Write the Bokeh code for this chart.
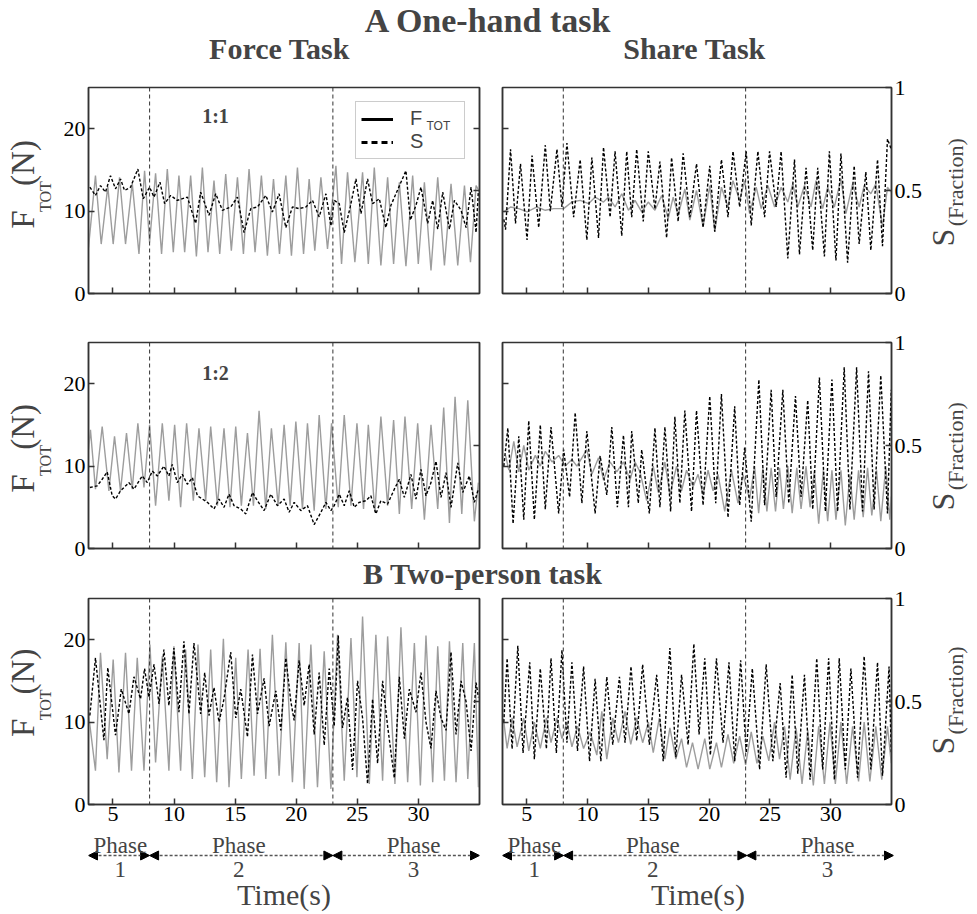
import math
from bokeh.plotting import figure
from bokeh.models import (Range1d, LinearAxis, FixedTicker, Span, Label, Legend,
                          LegendItem, Arrow, NormalHead)
from bokeh.layouts import column, row
from bokeh.embed import file_html
from bokeh.resources import INLINE

# ---------------- data ----------------
x_ticks = [5, 10, 15, 20, 25, 30]
f_ticks = [0, 10, 20]
s_ticks = [0, 0.5, 1]
phase_bounds = [3, 8, 23, 35]
phase_marks = [8, 23]
phase_names = ["1", "2", "3"]
phase_label_x = [5.6, 15.3, 29.6]

# One-hand, Force task (1:1)
tl_force_t = [3.0, 3.57, 4.04, 4.58, 5.02, 5.54, 6.03, 6.58, 7.13, 7.59, 8.0, 8.49, 8.98, 9.45, 9.94, 10.4, 10.87, 11.36, 11.83, 12.32, 12.78, 13.27, 13.74, 14.23, 14.69, 15.19, 15.68, 16.14, 16.63, 17.15, 17.64, 18.14, 18.63, 19.15, 19.61, 20.1, 20.6, 21.06, 21.52, 22.02, 22.56, 23.25, 23.71, 24.2, 24.8, 25.43, 25.9, 26.39, 26.93, 27.48, 27.97, 28.44, 28.98, 29.53, 29.99, 30.49, 31.03, 31.58, 32.13, 32.67, 33.22, 33.77, 34.26, 34.72, 34.95]
tl_force = [5.6, 14.3, 6.0, 13.0, 6.0, 14.1, 6.0, 13.4, 4.8, 14.9, 6.2, 14.6, 4.8, 15.1, 5.0, 14.3, 5.0, 14.3, 4.5, 15.3, 5.0, 13.7, 4.8, 14.5, 5.2, 14.1, 4.8, 15.1, 5.0, 14.3, 4.6, 13.9, 4.8, 14.3, 4.6, 15.3, 4.8, 13.9, 5.2, 14.1, 5.4, 15.5, 3.6, 14.7, 3.8, 14.7, 3.6, 15.3, 3.4, 14.1, 3.6, 13.5, 3.3, 14.3, 3.6, 13.5, 2.8, 14.1, 3.4, 13.3, 3.4, 13.1, 3.8, 13.1, 12.5]
tl_share_t = [3.11, 3.57, 3.98, 4.39, 4.80, 5.21, 5.62, 5.95, 6.44, 7.04, 7.48, 8.0, 8.36, 8.85, 9.23, 9.72, 10.27, 11.09, 11.77, 12.18, 12.86, 13.41, 13.96, 14.64, 15.19, 15.73, 16.28, 16.83, 17.51, 18.05, 18.60, 19.15, 19.69, 20.24, 20.79, 21.33, 21.88, 22.43, 22.84, 23.11, 23.52, 23.93, 24.42, 24.89, 25.30, 25.84, 26.25, 26.80, 27.34, 27.75, 28.16, 28.57, 28.98, 29.34, 29.80, 30.21, 30.76, 31.17, 31.58, 31.99, 32.54, 32.95, 33.49, 33.90, 34.31, 34.72, 34.91]
tl_share = [0.516, 0.476, 0.524, 0.492, 0.572, 0.508, 0.556, 0.50, 0.516, 0.604, 0.46, 0.516, 0.468, 0.54, 0.436, 0.476, 0.452, 0.468, 0.34, 0.492, 0.38, 0.484, 0.404, 0.42, 0.468, 0.296, 0.412, 0.42, 0.476, 0.396, 0.484, 0.32, 0.42, 0.412, 0.42, 0.452, 0.372, 0.484, 0.328, 0.452, 0.436, 0.296, 0.42, 0.556, 0.388, 0.556, 0.436, 0.46, 0.32, 0.428, 0.484, 0.54, 0.596, 0.356, 0.428, 0.516, 0.34, 0.452, 0.312, 0.492, 0.312, 0.452, 0.404, 0.32, 0.516, 0.296, 0.50]

# One-hand, Share task (1:1)
tr_force_t = [3.11, 3.66, 4.34, 5.02, 5.84, 6.52, 7.21, 8.03, 8.71, 9.39, 10.08, 10.62, 11.31, 11.72, 12.26, 12.81, 13.36, 13.90, 14.45, 14.99, 15.54, 16.09, 16.63, 17.04, 17.45, 18.0, 18.41, 18.96, 19.50, 20.05, 20.46, 21.01, 21.55, 21.96, 22.51, 22.92, 23.33, 23.87, 24.28, 24.83, 25.38, 25.92, 26.47, 26.88, 27.29, 27.84, 28.38, 28.79, 29.34, 29.75, 30.30, 30.84, 31.25, 31.80, 32.34, 32.75, 33.30, 33.71, 34.26, 34.67, 34.98]
tr_force = [9.9, 10.5, 10.3, 9.9, 10.5, 10.1, 10.3, 10.3, 11.1, 11.3, 10.9, 11.7, 11.1, 11.7, 10.5, 12.1, 10.1, 11.3, 9.9, 11.1, 10.1, 11.9, 9.1, 11.7, 9.5, 12.7, 8.9, 12.5, 8.1, 13.1, 7.5, 12.9, 10.5, 13.7, 11.3, 13.7, 9.7, 12.9, 10.3, 13.1, 10.5, 12.9, 11.1, 13.3, 10.5, 13.1, 10.5, 13.7, 10.3, 12.9, 10.5, 13.9, 9.7, 13.3, 10.5, 13.1, 12.1, 13.3, 8.1, 12.9, 12.3]
tr_share_t = [3.11, 3.25, 3.66, 4.07, 4.48, 5.02, 5.43, 5.98, 6.52, 6.93, 7.48, 7.89, 8.30, 8.85, 9.39, 9.94, 10.35, 10.90, 11.31, 11.85, 12.26, 12.81, 13.22, 13.63, 14.04, 14.58, 14.99, 15.54, 15.95, 16.50, 16.91, 17.45, 17.86, 18.41, 18.96, 19.50, 20.05, 20.46, 21.01, 21.55, 21.96, 22.51, 23.05, 23.46, 24.01, 24.56, 24.97, 25.51, 25.92, 26.47, 27.02, 27.43, 27.97, 28.52, 28.93, 29.48, 29.89, 30.43, 30.84, 31.39, 31.93, 32.34, 32.89, 33.30, 33.85, 34.26, 34.67, 34.98]
tr_share = [0.36, 0.31, 0.70, 0.34, 0.63, 0.26, 0.67, 0.32, 0.72, 0.40, 0.70, 0.42, 0.73, 0.37, 0.65, 0.26, 0.66, 0.27, 0.71, 0.37, 0.69, 0.28, 0.69, 0.37, 0.70, 0.35, 0.69, 0.41, 0.64, 0.27, 0.66, 0.35, 0.68, 0.37, 0.63, 0.32, 0.62, 0.30, 0.65, 0.37, 0.69, 0.42, 0.69, 0.33, 0.69, 0.37, 0.69, 0.42, 0.69, 0.17, 0.65, 0.19, 0.61, 0.21, 0.61, 0.18, 0.69, 0.16, 0.68, 0.15, 0.62, 0.24, 0.59, 0.21, 0.65, 0.23, 0.75, 0.70]

# One-hand, Force task (1:2)
ml_force_t = [3.0, 3.16, 3.57, 4.12, 4.67, 5.13, 5.62, 6.11, 6.58, 7.04, 7.54, 8.0, 8.49, 9.04, 9.58, 10.05, 10.54, 11.03, 11.58, 12.04, 12.59, 13.0, 13.55, 14.09, 14.58, 15.05, 15.51, 16.01, 16.50, 16.96, 17.51, 17.97, 18.52, 19.01, 19.50, 19.97, 20.51, 20.92, 21.47, 21.88, 22.43, 22.89, 23.44, 23.93, 24.48, 24.97, 25.51, 25.90, 26.44, 26.93, 27.48, 27.97, 28.44, 28.90, 29.45, 29.94, 30.49, 31.03, 31.58, 32.07, 32.54, 33.0, 33.55, 34.04, 34.58, 34.91]
ml_force = [12.0, 14.4, 7.2, 14.8, 7.0, 13.6, 7.0, 14.0, 7.2, 15.2, 7.4, 15.0, 5.2, 15.2, 5.8, 15.0, 5.0, 15.2, 5.8, 14.6, 5.8, 14.8, 5.2, 14.6, 5.0, 14.8, 5.2, 14.0, 5.2, 16.7, 4.8, 14.6, 5.2, 15.0, 5.2, 15.4, 4.8, 15.2, 4.6, 16.2, 4.8, 15.2, 5.0, 16.2, 5.2, 15.2, 4.8, 15.0, 4.4, 16.0, 5.2, 15.6, 4.2, 16.0, 4.8, 15.2, 3.5, 15.0, 4.8, 17.1, 3.1, 18.4, 4.2, 18.0, 3.3, 8.0]
ml_share_t = [3.11, 3.71, 4.12, 4.53, 4.94, 5.21, 5.62, 6.31, 6.72, 7.40, 7.81, 8.22, 8.63, 9.17, 9.58, 9.86, 10.27, 10.68, 11.09, 11.50, 11.91, 12.32, 12.73, 13.27, 13.68, 14.09, 14.50, 14.91, 15.46, 15.87, 16.42, 16.83, 17.37, 17.92, 18.46, 19.01, 19.42, 19.83, 20.38, 20.92, 21.47, 22.02, 22.43, 22.84, 23.11, 23.52, 23.93, 24.34, 24.75, 25.16, 25.70, 26.11, 26.52, 26.93, 27.48, 28.03, 28.44, 28.85, 29.39, 29.80, 30.21, 30.62, 31.03, 31.44, 31.85, 32.26, 32.67, 33.22, 33.63, 34.17, 34.58, 34.91]
ml_share = [0.296, 0.304, 0.336, 0.372, 0.256, 0.24, 0.28, 0.32, 0.288, 0.352, 0.32, 0.376, 0.352, 0.40, 0.352, 0.408, 0.32, 0.36, 0.312, 0.344, 0.256, 0.24, 0.224, 0.192, 0.24, 0.20, 0.264, 0.208, 0.192, 0.168, 0.272, 0.232, 0.184, 0.264, 0.208, 0.24, 0.176, 0.224, 0.184, 0.208, 0.116, 0.176, 0.224, 0.184, 0.208, 0.264, 0.208, 0.28, 0.20, 0.224, 0.232, 0.256, 0.168, 0.232, 0.216, 0.288, 0.336, 0.248, 0.36, 0.24, 0.384, 0.256, 0.32, 0.424, 0.248, 0.368, 0.20, 0.416, 0.272, 0.352, 0.224, 0.288]

# One-hand, Share task (1:2)
mr_force_t = [3.25, 3.52, 3.93, 4.34, 4.75, 5.16, 5.70, 6.11, 6.52, 7.07, 7.62, 8.16, 8.71, 9.12, 9.94, 10.35, 10.90, 11.31, 11.85, 12.40, 12.95, 13.49, 13.90, 14.31, 14.86, 15.40, 15.81, 16.36, 16.77, 17.32, 17.73, 18.14, 18.68, 19.09, 19.50, 19.91, 20.32, 20.73, 21.28, 21.83, 22.37, 22.78, 23.33, 23.74, 24.07, 24.42, 24.75, 25.10, 25.46, 25.79, 26.11, 26.47, 26.83, 27.21, 27.56, 27.97, 28.30, 28.66, 29.01, 29.39, 29.75, 30.10, 30.43, 30.84, 31.20, 31.58, 31.93, 32.29, 32.67, 33.03, 33.38, 33.77, 34.12, 34.53, 34.86, 34.98]
mr_force = [11.3, 9.5, 13.0, 9.3, 12.5, 9.5, 11.3, 10.0, 11.8, 10.5, 11.3, 10.0, 10.8, 10.0, 12.0, 9.0, 11.0, 8.3, 10.5, 9.3, 10.5, 8.3, 10.5, 9.3, 5.8, 10.0, 6.8, 10.5, 6.5, 10.0, 7.0, 9.5, 7.5, 9.0, 6.5, 9.5, 7.0, 9.0, 4.5, 9.5, 5.5, 9.0, 6.0, 10.0, 4.3, 9.8, 4.5, 9.8, 4.5, 9.8, 4.8, 10.0, 4.3, 9.8, 4.8, 10.0, 5.0, 9.5, 3.0, 9.5, 3.3, 9.5, 3.5, 9.5, 2.8, 9.0, 3.5, 9.5, 3.8, 9.8, 4.0, 9.5, 3.3, 10.0, 3.5, 6.3]
mr_share_t = [3.11, 3.44, 3.87, 4.34, 4.75, 5.16, 5.62, 6.11, 6.52, 6.99, 7.62, 8.03, 8.52, 8.98, 9.53, 9.94, 10.62, 11.03, 11.58, 11.99, 12.45, 12.95, 13.36, 13.63, 14.17, 14.45, 15.08, 15.54, 15.95, 16.36, 16.83, 17.18, 17.59, 18.0, 18.55, 18.96, 19.50, 20.05, 20.54, 21.01, 21.55, 22.10, 22.51, 22.92, 23.46, 24.09, 24.56, 25.10, 25.51, 26.06, 26.55, 27.10, 27.56, 28.11, 28.52, 29.07, 29.56, 30.10, 30.57, 31.11, 31.58, 32.13, 32.62, 33.11, 33.57, 34.12, 34.67, 34.98]
mr_share = [0.40, 0.585, 0.12, 0.545, 0.14, 0.62, 0.14, 0.60, 0.19, 0.59, 0.17, 0.48, 0.25, 0.66, 0.22, 0.57, 0.17, 0.45, 0.26, 0.59, 0.20, 0.55, 0.20, 0.57, 0.22, 0.48, 0.17, 0.585, 0.20, 0.59, 0.18, 0.64, 0.22, 0.67, 0.18, 0.67, 0.21, 0.74, 0.22, 0.75, 0.15, 0.69, 0.21, 0.49, 0.13, 0.82, 0.21, 0.77, 0.25, 0.77, 0.22, 0.74, 0.25, 0.72, 0.19, 0.83, 0.18, 0.82, 0.18, 0.88, 0.19, 0.88, 0.18, 0.86, 0.19, 0.84, 0.17, 0.77]

# Two-person, Force task
bl_force_t = [3.0, 3.57, 3.98, 4.53, 5.02, 5.49, 6.03, 6.52, 6.99, 7.54, 8.03, 8.49, 9.04, 9.58, 9.99, 10.54, 10.95, 11.50, 11.96, 12.51, 13.0, 13.49, 14.04, 14.50, 15.05, 15.51, 16.06, 16.55, 17.04, 17.51, 18.05, 18.60, 19.15, 19.69, 20.24, 20.65, 21.20, 21.74, 22.29, 22.84, 23.38, 23.93, 24.48, 24.97, 25.43, 25.98, 26.52, 27.07, 27.48, 28.08, 28.57, 29.12, 29.67, 30.16, 30.62, 31.17, 31.58, 32.13, 32.54, 33.08, 33.63, 34.04, 34.58, 34.91]
bl_force = [11.0, 4.1, 18.4, 5.5, 17.6, 3.9, 18.4, 4.1, 17.8, 4.1, 19.4, 5.1, 18.0, 4.1, 19.2, 4.1, 18.8, 3.1, 19.4, 3.3, 18.8, 2.7, 20.1, 2.1, 17.8, 3.1, 18.8, 3.5, 18.9, 3.1, 20.6, 3.5, 19.7, 2.7, 19.6, 1.9, 19.4, 2.1, 18.6, 1.9, 20.6, 2.9, 20.2, 3.3, 22.8, 2.5, 20.6, 2.9, 20.4, 2.5, 21.5, 2.7, 19.6, 2.3, 20.5, 2.7, 19.2, 2.9, 19.8, 2.7, 19.6, 3.1, 19.6, 2.1]
bl_share_t = [3.11, 3.57, 4.26, 4.58, 5.21, 5.68, 6.31, 6.72, 7.26, 7.59, 7.95, 8.36, 8.77, 9.17, 9.58, 9.99, 10.40, 10.81, 11.22, 11.63, 12.18, 12.51, 12.86, 13.27, 13.68, 14.09, 14.64, 15.05, 15.46, 16.01, 16.42, 16.83, 17.37, 17.78, 18.33, 18.74, 19.15, 19.56, 19.83, 20.24, 20.65, 21.06, 21.47, 21.88, 22.29, 22.70, 23.11, 23.44, 23.79, 24.20, 24.61, 25.02, 25.43, 25.84, 26.25, 26.66, 27.07, 27.48, 28.03, 28.44, 28.85, 29.26, 29.80, 30.21, 30.62, 31.03, 31.44, 31.85, 32.26, 32.67, 33.08, 33.49, 33.90, 34.31, 34.72, 34.91]
bl_share = [0.432, 0.712, 0.312, 0.664, 0.336, 0.56, 0.44, 0.62, 0.512, 0.66, 0.52, 0.68, 0.488, 0.752, 0.48, 0.76, 0.448, 0.792, 0.44, 0.784, 0.44, 0.64, 0.432, 0.568, 0.40, 0.512, 0.74, 0.42, 0.56, 0.328, 0.728, 0.44, 0.612, 0.38, 0.552, 0.36, 0.712, 0.50, 0.408, 0.70, 0.48, 0.68, 0.34, 0.64, 0.288, 0.66, 0.38, 0.82, 0.372, 0.52, 0.168, 0.60, 0.42, 0.10, 0.512, 0.20, 0.60, 0.38, 0.128, 0.62, 0.32, 0.56, 0.448, 0.64, 0.40, 0.272, 0.552, 0.42, 0.36, 0.74, 0.34, 0.60, 0.50, 0.26, 0.592, 0.52]

# Two-person, Share task
br_force_t = [3.11, 3.38, 3.79, 4.20, 4.75, 5.16, 5.62, 6.11, 6.61, 6.99, 7.48, 7.89, 8.30, 8.71, 9.17, 9.67, 10.21, 10.76, 11.17, 11.58, 12.07, 12.54, 13.08, 13.55, 14.04, 14.53, 15.0, 15.40, 15.90, 16.36, 16.77, 17.26, 17.73, 18.14, 18.63, 19.09, 19.64, 20.05, 20.60, 21.01, 21.55, 22.02, 22.51, 23.0, 23.46, 23.93, 24.42, 24.91, 25.38, 25.79, 26.20, 26.66, 27.15, 27.64, 28.11, 28.57, 29.01, 29.48, 29.94, 30.38, 30.84, 31.31, 31.80, 32.29, 32.75, 33.22, 33.71, 34.20, 34.67, 34.98]
br_force = [10.0, 6.8, 10.5, 7.0, 10.5, 6.5, 10.0, 6.8, 10.5, 7.5, 10.5, 8.0, 10.0, 7.0, 9.5, 6.8, 8.8, 6.0, 11.3, 5.5, 10.5, 7.5, 11.3, 7.3, 10.5, 7.5, 10.0, 6.3, 10.5, 5.5, 9.3, 5.5, 8.0, 4.5, 7.5, 4.3, 8.0, 4.3, 7.5, 4.5, 8.5, 5.0, 8.3, 4.8, 8.8, 5.0, 8.3, 5.3, 10.0, 5.5, 9.5, 3.0, 9.3, 2.5, 9.0, 2.3, 9.5, 2.5, 10.0, 2.5, 10.0, 2.5, 9.5, 2.8, 10.0, 2.8, 9.5, 3.0, 9.5, 5.0]
br_share_t = [3.11, 3.38, 3.79, 4.26, 4.69, 5.24, 5.62, 6.11, 6.61, 6.99, 7.43, 7.89, 8.30, 8.71, 9.17, 9.67, 10.16, 10.62, 11.09, 11.58, 12.07, 12.62, 13.08, 13.57, 14.04, 14.53, 15.08, 15.68, 16.22, 16.77, 17.26, 17.73, 18.27, 18.74, 19.17, 19.64, 20.10, 20.60, 21.14, 21.63, 22.10, 22.59, 23.05, 23.55, 24.15, 24.69, 25.24, 25.84, 26.33, 26.83, 27.29, 27.84, 28.30, 28.85, 29.34, 29.83, 30.30, 30.70, 31.20, 31.66, 32.21, 32.75, 33.30, 33.85, 34.26, 34.80, 34.98]
br_share = [0.40, 0.71, 0.27, 0.77, 0.25, 0.69, 0.22, 0.66, 0.27, 0.71, 0.25, 0.75, 0.30, 0.69, 0.26, 0.67, 0.21, 0.61, 0.21, 0.62, 0.29, 0.62, 0.30, 0.67, 0.31, 0.68, 0.29, 0.63, 0.21, 0.76, 0.23, 0.63, 0.29, 0.78, 0.34, 0.71, 0.24, 0.71, 0.30, 0.69, 0.21, 0.70, 0.25, 0.66, 0.17, 0.68, 0.21, 0.59, 0.13, 0.63, 0.15, 0.63, 0.12, 0.71, 0.17, 0.71, 0.12, 0.71, 0.17, 0.66, 0.13, 0.72, 0.17, 0.69, 0.14, 0.67, 0.25]

# ---------------- layout / style ----------------
X_RANGE = (3, 35)
F_RANGE = (0, 25)
S_RANGE = (0, 1)
SERIF = "Liberation Serif"
SANS = "Liberation Sans"
GREY = "#9d9d9d"
DARK = "#333333"
PAGE_W = 977
FRAME_W, FRAME_H = 391, 206
SIDE_L, SIDE_R = 58, 52            # label strips
PL_L, PL_R = 30, 21                # left panel borders
PR_L, PR_R = 2, 32                 # right panel borders
PANEL_LW = PL_L + FRAME_W + PL_R   # 442
PANEL_RW = PR_L + FRAME_W + PR_R   # 425
FRAME_L_PAGE = SIDE_L + PL_L       # 88
PXX = FRAME_W / (X_RANGE[1] - X_RANGE[0])
PXY = FRAME_H / (F_RANGE[1] - F_RANGE[0])


def xl(px):   # page px -> data x for left-column panels
    return X_RANGE[0] + (px - FRAME_L_PAGE) / PXX


def style_axis(ax, show, standoff=4):
    ax.axis_line_color = DARK
    ax.axis_line_width = 1.5
    ax.major_tick_in = 6
    ax.major_tick_out = 0
    ax.minor_tick_in = 0
    ax.minor_tick_out = 0
    ax.major_tick_line_color = DARK
    ax.major_tick_line_width = 1.5
    if show:
        ax.major_label_text_font = SERIF
        ax.major_label_text_font_size = "22px"
        ax.major_label_text_color = "black"
        ax.major_label_standoff = standoff
    else:
        ax.major_label_text_color = None
        ax.major_label_text_font_size = "1px"
        ax.major_label_standoff = 0


def pair(a, b):
    n = min(len(a), len(b))
    return list(a[:n]), list(b[:n])


def blank(width, height, xr, yr, **kw):
    p = figure(width=width, height=height, x_range=Range1d(*xr), y_range=Range1d(*yr),
               x_axis_type=None, y_axis_type=None, toolbar_location=None,
               output_backend="svg", **kw)
    p.outline_line_color = None
    p.xgrid.visible = False
    p.ygrid.visible = False
    p.border_fill_color = None
    p.background_fill_color = None
    return p


def make_panel(side, f_t, f_v, s_t, s_v, top, bottom, show_x, inner_s_ticks=(0.5,)):
    left = side == "L"
    p = figure(width=PANEL_LW if left else PANEL_RW, height=top + FRAME_H + bottom,
               x_range=Range1d(*X_RANGE), y_range=Range1d(*F_RANGE),
               toolbar_location=None, output_backend="svg",
               min_border_left=PL_L if left else PR_L,
               min_border_right=PL_R if left else PR_R,
               min_border_top=top, min_border_bottom=bottom)
    p.extra_y_ranges = {"s": Range1d(*S_RANGE)}
    p.xgrid.visible = False
    p.ygrid.visible = False
    p.outline_line_color = DARK
    p.outline_line_width = 1.5
    p.border_fill_color = None
    p.background_fill_color = "white"

    xa = p.xaxis[0]
    xa.ticker = FixedTicker(ticks=x_ticks)
    style_axis(xa, show_x, standoff=2)
    ya = p.yaxis[0]
    ya.ticker = FixedTicker(ticks=f_ticks if left else [t for t in f_ticks if t > 0])
    style_axis(ya, left, standoff=3)
    sa = LinearAxis(y_range_name="s",
                    ticker=FixedTicker(ticks=s_ticks if not left else list(inner_s_ticks)))
    sa.major_label_overrides = {0: "0", 0.5: "0.5", 1: "1"}
    style_axis(sa, not left, standoff=3)
    p.add_layout(sa, "right")

    for m in phase_marks:
        p.add_layout(Span(location=m, dimension="height", line_color=DARK,
                          line_dash="4 3", line_width=1))
    ft, fv = pair(f_t, f_v)
    st, sv = pair(s_t, s_v)
    p.line(ft, fv, line_color=GREY, line_width=1.4)
    p.line(st, sv, y_range_name="s", line_color="black", line_dash="3 2", line_width=1.4)
    return p


def side_labels(left, height, top):
    w = SIDE_L if left else SIDE_R
    p = blank(w, height, (0, w), (0, height), min_border=0)
    yc = height - (top + FRAME_H / 2)
    if left:
        items = [(22, -50, "F", "33px"), (45, -30, "TOT", "16px"), (22, 1, "(N)", "33px")]
    else:
        items = [(17, -71, "S", "32px"), (30, -47, "(Fraction)", "22px")]
    for (x, dy, txt, size) in items:
        p.add_layout(Label(x=x, y=yc + dy, text=txt, angle=math.pi / 2, text_font=SERIF,
                           text_font_size=size, text_align="left",
                           text_baseline="alphabetic"))
    return p


def panel_row(f_l, f_r, top, bottom, show_x, inner=(0.5,)):
    h = top + FRAME_H + bottom
    pl = make_panel("L", *f_l, top, bottom, show_x, inner)
    pr = make_panel("R", *f_r, top, bottom, show_x)
    return pl, pr, row(side_labels(True, h, top), pl, pr, side_labels(False, h, top))


def header(h, items):
    p = blank(PAGE_W, h, (0, PAGE_W), (0, h), min_border=0)
    for (x, y, txt, size) in items:
        p.add_layout(Label(x=x, y=y, text=txt, text_font=SERIF, text_font_size=size,
                           text_font_style="bold", text_align="center",
                           text_baseline="middle"))
    return p


def footer(left):
    H = 80
    p = blank(SIDE_L + PANEL_LW if left else PANEL_RW + SIDE_R, H, X_RANGE, (0, H),
              min_border_left=FRAME_L_PAGE if left else PR_L,
              min_border_right=PL_R if left else PR_R + SIDE_R,
              min_border_top=0, min_border_bottom=0)
    for i in range(3):
        p.add_layout(Arrow(start=NormalHead(size=9, fill_color="black", line_color="black"),
                           end=NormalHead(size=9, fill_color="black", line_color="black"),
                           x_start=phase_bounds[i], x_end=phase_bounds[i + 1],
                           y_start=57, y_end=57, line_color="#555555",
                           line_dash="3 2", line_width=1.3))
        p.add_layout(Label(x=phase_label_x[i], y=67, text="Phase", text_font=SERIF,
                           text_font_size="23px", text_align="center", text_baseline="middle"))
        p.add_layout(Label(x=phase_label_x[i], y=43, text=phase_names[i], text_font=SERIF,
                           text_font_size="23px", text_align="center", text_baseline="middle"))
    p.add_layout(Label(x=(X_RANGE[0] + X_RANGE[1]) / 2, y=18, text="Time(s)", text_font=SERIF,
                       text_font_size="30px", text_align="center", text_baseline="middle"))
    return p


# header A
hA = header(72, [(488, 52, "A One-hand task", "34px"),
                 (279, 24, "Force Task", "30px"),
                 (694, 24, "Share Task", "30px")])

tl, tr, row1 = panel_row((tl_force_t, tl_force, tl_share_t, tl_share),
                         (tr_force_t, tr_force, tr_share_t, tr_share),
                         15, 24, False, (0.5, 0.8))

# legend in the first panel (proxy renderers kept outside the visible ranges)
r1 = tl.line([X_RANGE[0] - 2, X_RANGE[0] - 1], [F_RANGE[0] - 2, F_RANGE[0] - 2],
             line_color="black", line_width=3)
r2 = tl.line([X_RANGE[0] - 2, X_RANGE[0] - 1], [F_RANGE[0] - 2, F_RANGE[0] - 2],
             line_color="black", line_width=3, line_dash="6 4")
leg = Legend(items=[LegendItem(label="F", renderers=[r1]), LegendItem(label="S", renderers=[r2])],
             location="top_right", margin=14, padding=5, spacing=0,
             glyph_width=32, glyph_height=18, label_standoff=17, label_width=49,
             label_text_font=SANS, label_text_font_size="20px",
             border_line_color="#999999", border_line_width=1, background_fill_alpha=0.0)
tl.add_layout(leg)
tl.add_layout(Label(x=xl(426), y=(293 - 125) / PXY, text="TOT", text_font=SANS,
                    text_font_size="12px", text_align="left", text_baseline="alphabetic",
                    level="overlay"))
tl.add_layout(Label(x=xl(215), y=(293 - 115) / PXY, text="1:1", text_font=SERIF,
                    text_font_size="20px", text_font_style="bold", text_align="center",
                    text_baseline="middle"))

ml, mr, row2 = panel_row((ml_force_t, ml_force, ml_share_t, ml_share),
                         (mr_force_t, mr_force, mr_share_t, mr_share),
                         25, 13, False)
ml.add_layout(Label(x=xl(215), y=(548 - 372) / PXY, text="1:2", text_font=SERIF,
                    text_font_size="20px", text_font_style="bold", text_align="center",
                    text_baseline="middle"))

hB = header(34, [(486, 17, "B  Two-person task", "30px")])
hB.margin = (-5, 0, -5, 0)

bl, br, row3 = panel_row((bl_force_t, bl_force, bl_share_t, bl_share),
                         (br_force_t, br_force, br_share_t, br_share),
                         13, 28, True)

foot = row(footer(True), footer(False))

layout = column(hA, row1, row2, hB, row3, foot)
open("out.html", "w").write(file_html(layout, INLINE))
